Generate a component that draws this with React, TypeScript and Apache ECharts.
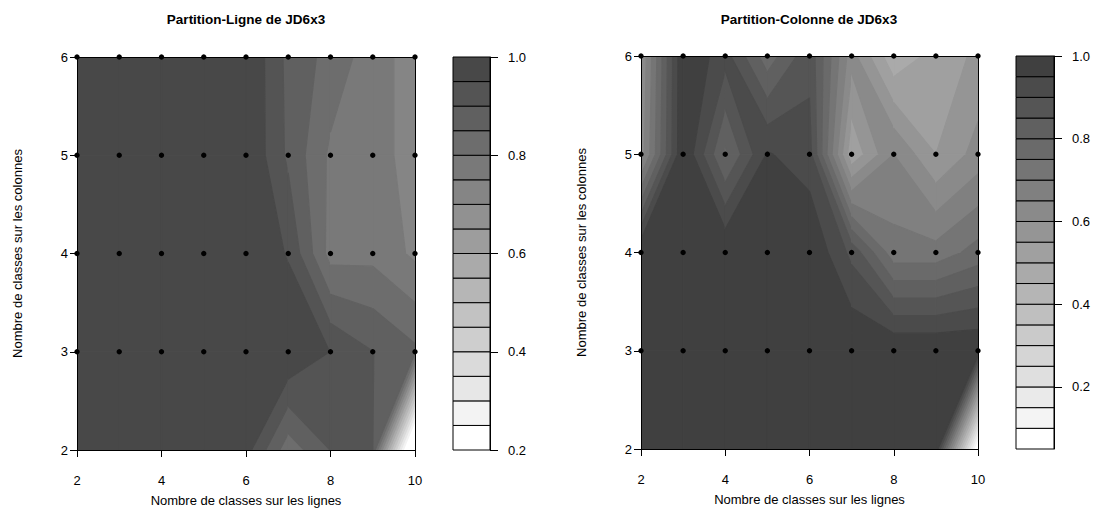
import React, { useEffect, useRef } from "react";
import * as echarts from "echarts";

// Grid axes
const X_VALUES = [2, 3, 4, 5, 6, 7, 8, 9, 10];
const Y_VALUES = [2, 3, 4, 5, 6];
const DOT_Y = [3, 4, 5, 6];
const X_TICKS = [2, 4, 6, 8, 10];

// Partition-Ligne de JD6x3 : rows y = 2..6, columns x = 2..10
const LIGNE_Y2 = [1, 1, 1, 1, 0.97, 0.82, 0.901, 0.901, 0];
const LIGNE_Y3 = [1, 1, 1, 1, 1, 1, 0.949, 0.901, 0.86];
const LIGNE_Y4 = [1, 1, 1, 1, 1, 0.945, 0.78, 0.785, 0.74];
const LIGNE_Y5 = [1, 1, 1, 1, 1, 0.89, 0.79, 0.765, 0.735];
const LIGNE_Y6 = [1, 1, 1, 1, 1, 0.886, 0.832, 0.772, 0.728];

// Partition-Colonne de JD6x3
const COLONNE_Y2 = [1, 1, 1, 1, 1, 1, 1, 1, 0];
const COLONNE_Y3 = [1, 1, 1, 1, 1, 1, 1, 1, 1];
const COLONNE_Y4 = [1, 1, 1, 1, 1, 0.886, 0.72, 0.72, 0.77];
const COLONNE_Y5 = [0.62, 1, 0.79, 0.955, 0.92, 0.51, 0.65, 0.55, 0.62];
const COLONNE_Y6 = [0.6, 1, 0.92, 0.77, 0.885, 0.62, 0.46, 0.52, 0.56];

const LIGNE_LEVELS = [0.2, 0.25, 0.3, 0.35, 0.4, 0.45, 0.5, 0.55, 0.6, 0.65, 0.7, 0.75, 0.8, 0.85, 0.9, 0.95, 1.0];
const COLONNE_LEVELS = [0.05, 0.1, 0.15, 0.2, 0.25, 0.3, 0.35, 0.4, 0.45, 0.5, 0.55, 0.6, 0.65, 0.7, 0.75, 0.8, 0.85, 0.9, 0.95, 1.0];
const KEY_TICKS = [0.2, 0.4, 0.6, 0.8, 1.0];

const TITLE_LIGNE = "Partition-Ligne de JD6x3";
const TITLE_COLONNE = "Partition-Colonne de JD6x3";
const X_NAME = "Nombre de classes sur les lignes";
const Y_NAME = "Nombre de classes sur les colonnes";

const FONT = "'Liberation Sans', Arial, Helvetica, sans-serif";

type P = { x: number; y: number; z: number };

function clipPoly(poly: P[], level: number, keepAbove: boolean): P[] {
  const out: P[] = [];
  const n = poly.length;
  for (let i = 0; i < n; i++) {
    const a = poly[i];
    const b = poly[(i + 1) % n];
    const ina = keepAbove ? a.z >= level : a.z <= level;
    const inb = keepAbove ? b.z >= level : b.z <= level;
    if (ina) out.push(a);
    if (ina !== inb) {
      const t = (level - a.z) / (b.z - a.z);
      out.push({ x: a.x + t * (b.x - a.x), y: a.y + t * (b.y - a.y), z: level });
    }
  }
  return out;
}

function grayPalette(n: number, dark: number): string[] {
  const cols: string[] = [];
  for (let k = 0; k < n; k++) {
    const g = Math.round(255 - ((255 - dark) * k) / (n - 1));
    const h = g.toString(16).padStart(2, "0");
    cols.push("#" + h + h + h);
  }
  return cols;
}

// Contour bands + the grid dots, all drawn in one clipped custom series
function contourSeries(axisIndex: number, grid: number[][], levels: number[], colors: string[]) {
  const cells: number[][] = [];
  for (let j = 0; j < Y_VALUES.length - 1; j++) {
    for (let i = 0; i < X_VALUES.length - 1; i++) {
      cells.push([X_VALUES[i], Y_VALUES[j], i, j]);
    }
  }
  return {
    type: "custom",
    xAxisIndex: axisIndex,
    yAxisIndex: axisIndex,
    clip: true,
    z: 2,
    data: cells,
    encode: { x: 0, y: 1 },
    renderItem: (params: any, api: any) => {
      const i = api.value(2);
      const j = api.value(3);
      const corners: P[] = [
        { x: X_VALUES[i], y: Y_VALUES[j], z: grid[j][i] },
        { x: X_VALUES[i + 1], y: Y_VALUES[j], z: grid[j][i + 1] },
        { x: X_VALUES[i + 1], y: Y_VALUES[j + 1], z: grid[j + 1][i + 1] },
        { x: X_VALUES[i], y: Y_VALUES[j + 1], z: grid[j + 1][i] },
      ];
      const children: any[] = [];
      for (let k = 0; k < levels.length - 1; k++) {
        let poly = clipPoly(corners, levels[k], true);
        poly = clipPoly(poly, levels[k + 1], false);
        if (poly.length >= 3) {
          const pts = poly.map((p) => api.coord([p.x, p.y]));
          children.push({
            type: "polygon",
            shape: { points: pts },
            style: { fill: colors[k], stroke: colors[k], lineWidth: 1.2, lineJoin: "round" },
          });
        }
      }
      return { type: "group", children };
    },
  };
}

function dotSeries(axisIndex: number) {
  const pts: number[][] = [];
  for (const y of DOT_Y) for (const x of X_VALUES) pts.push([x, y]);
  return {
    type: "scatter",
    xAxisIndex: axisIndex,
    yAxisIndex: axisIndex,
    clip: false,
    silent: true,
    z: 10,
    symbol: "circle",
    symbolSize: 5.4,
    itemStyle: { color: "#000", opacity: 1 },
    data: pts,
  };
}

function keySeries(axisIndex: number, levels: number[], colors: string[]) {
  const data = levels.slice(0, -1).map((lo, k) => [0, lo, levels[k + 1], k]);
  return {
    type: "custom",
    xAxisIndex: axisIndex,
    yAxisIndex: axisIndex,
    silent: true,
    z: 2,
    data,
    encode: { x: 0, y: 1 },
    renderItem: (params: any, api: any) => {
      const p0 = api.coord([0, api.value(1)]);
      const p1 = api.coord([1, api.value(2)]);
      return {
        type: "rect",
        shape: { x: p0[0], y: p1[1], width: p1[0] - p0[0], height: p0[1] - p1[1] },
        style: { fill: colors[api.value(3)], stroke: "#000", lineWidth: 1 },
      };
    },
  };
}

const axisText = { color: "#000", fontSize: 13, fontFamily: FONT };

function mainXAxis(gridIndex: number) {
  return {
    type: "value",
    gridIndex,
    min: 2,
    max: 10,
    interval: 2,
    z: 5,
    name: X_NAME,
    nameLocation: "middle",
    nameGap: 44,
    nameTextStyle: { ...axisText },
    axisLine: { show: true, onZero: false, lineStyle: { color: "#000", width: 1 } },
    axisTick: { show: true, length: 7, lineStyle: { color: "#000" } },
    axisLabel: { ...axisText, margin: 24 },
    splitLine: { show: false },
  };
}

function mainYAxis(gridIndex: number) {
  return {
    type: "value",
    gridIndex,
    min: 2,
    max: 6,
    interval: 1,
    z: 5,
    name: Y_NAME,
    nameLocation: "middle",
    nameGap: 53,
    nameRotate: 90,
    nameTextStyle: { ...axisText },
    axisLine: { show: true, onZero: false, lineStyle: { color: "#000", width: 1 } },
    axisTick: { show: true, length: 7, lineStyle: { color: "#000" } },
    axisLabel: { ...axisText, margin: 9 },
    splitLine: { show: false },
  };
}

function frameXAxis(gridIndex: number) {
  return {
    type: "value", gridIndex, position: "top", min: 2, max: 10, z: 5,
    axisLine: { show: true, onZero: false, lineStyle: { color: "#000", width: 1 } },
    axisTick: { show: false }, axisLabel: { show: false }, splitLine: { show: false },
  };
}

function frameYAxis(gridIndex: number) {
  return {
    type: "value", gridIndex, position: "right", min: 2, max: 6, z: 5,
    axisLine: { show: true, onZero: false, lineStyle: { color: "#000", width: 1 } },
    axisTick: { show: false }, axisLabel: { show: false }, splitLine: { show: false },
  };
}

function keyXAxis(gridIndex: number) {
  return {
    type: "value", gridIndex, min: 0, max: 1, show: false,
  };
}

function keyYAxis(gridIndex: number, min: number) {
  return {
    type: "value",
    gridIndex,
    position: "right",
    min,
    max: 1,
    z: 5,
    axisLine: { show: true, onZero: false, lineStyle: { color: "#000", width: 1 } },
    axisTick: { show: true, length: 8, lineStyle: { color: "#000" }, customValues: KEY_TICKS },
    axisLabel: { ...axisText, margin: 18, customValues: KEY_TICKS, formatter: (v: number) => v.toFixed(1) },
    splitLine: { show: false },
  };
}

export default function App() {
  const ref = useRef<HTMLDivElement>(null);
  useEffect(() => {
    if (!ref.current) return;
    const chart = echarts.init(ref.current, undefined, { renderer: "svg" });
    const ligne = [LIGNE_Y2, LIGNE_Y3, LIGNE_Y4, LIGNE_Y5, LIGNE_Y6];
    const colonne = [COLONNE_Y2, COLONNE_Y3, COLONNE_Y4, COLONNE_Y5, COLONNE_Y6];
    const ligneCols = grayPalette(LIGNE_LEVELS.length - 1, 72);
    const colonneCols = grayPalette(COLONNE_LEVELS.length - 1, 64);
    chart.setOption({
      animation: false,
      backgroundColor: "#fff",
      grid: [
        { left: 77, top: 57, width: 338, height: 393 },
        { left: 453, top: 57, width: 37, height: 393 },
        { left: 641, top: 56, width: 337, height: 393 },
        { left: 1016, top: 56, width: 38, height: 393 },
      ],
      xAxis: [
        mainXAxis(0), frameXAxis(0), keyXAxis(1),
        mainXAxis(2), frameXAxis(2), keyXAxis(3),
      ],
      yAxis: [
        mainYAxis(0), frameYAxis(0), keyYAxis(1, LIGNE_LEVELS[0]),
        mainYAxis(2), frameYAxis(2), keyYAxis(3, COLONNE_LEVELS[0]),
      ],
      graphic: [
        {
          type: "text", x: 246, y: 19,
          style: { text: TITLE_LIGNE, fontSize: 13.5, fontWeight: "bold", fontFamily: FONT, fill: "#000", align: "center", verticalAlign: "middle" },
        },
        {
          type: "text", x: 809, y: 19,
          style: { text: TITLE_COLONNE, fontSize: 13.5, fontWeight: "bold", fontFamily: FONT, fill: "#000", align: "center", verticalAlign: "middle" },
        },
      ],
      series: [
        contourSeries(0, ligne, LIGNE_LEVELS, ligneCols),
        dotSeries(0),
        keySeries(2, LIGNE_LEVELS, ligneCols),
        contourSeries(3, colonne, COLONNE_LEVELS, colonneCols),
        dotSeries(3),
        keySeries(5, COLONNE_LEVELS, colonneCols),
      ],
    });
    return () => chart.dispose();
  }, []);
  return (
    <div
      ref={ref}
      style={{ position: "absolute", left: 0, top: 0, width: 1099, height: 529, background: "#fff" }}
    />
  );
}
